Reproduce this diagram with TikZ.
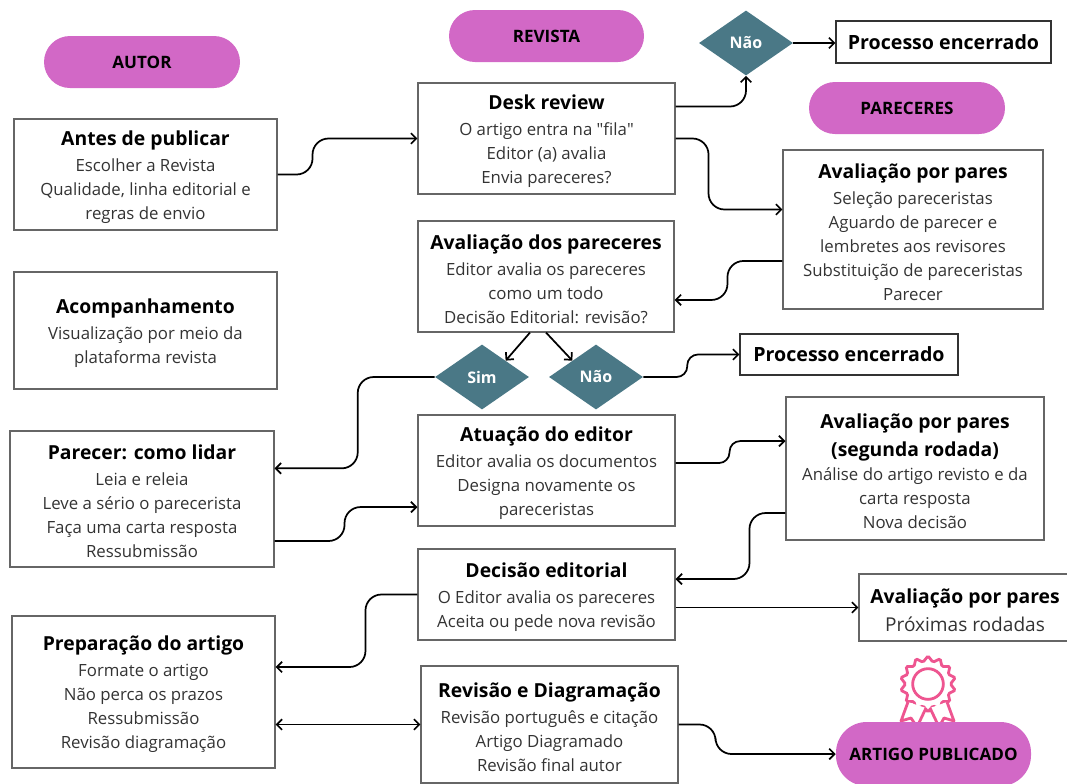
\documentclass[tikz,border=0pt]{standalone}
\usepackage{fontspec}
\setmainfont{Open Sans}
\newfontfamily\semmap{Open Sans}
\usetikzlibrary{shapes.geometric, arrows.meta}

\definecolor{rosa}{HTML}{D268C6}
\definecolor{petroleo}{HTML}{4A7886}
\definecolor{selo}{HTML}{EE5590}
\definecolor{borda}{HTML}{666666}
\definecolor{corpo}{HTML}{333333}

\newcommand{\titulo}[1]{{\fontsize{14.5}{18}\selectfont\bfseries\color{black}\rule{0pt}{14.5pt}#1}}

\tikzset{
	tam/.style 2 args={minimum width=#1*0.75pt, minimum height=#2*0.75pt},
	caixa/.style={draw=borda, line width=0.8pt, inner sep=0pt, align=center, text=corpo, font=\fontsize{12.6}{18}\selectfont},
	encerrado/.style={draw=black!80, line width=0.8pt, inner sep=0pt, font=\fontsize{14.7}{18}\selectfont\bfseries},
	pilula/.style={fill=rosa, rounded corners=19.5pt, inner sep=0pt, font=\fontsize{12.8}{14}\selectfont\bfseries},
	losango/.style={diamond, fill=petroleo, text=white, inner sep=0pt, minimum width=70.5pt, minimum height=48.75pt, font=\fontsize{12}{14}\selectfont\bfseries},
	conn/.style={-{Straight Barb[length=4pt, width=8pt]}, line width=1.3pt, rounded corners=12pt},
	connb/.style={conn, rounded corners=8pt},
}

\begin{document}
\begin{tikzpicture}[x=0.75pt, y=-0.75pt]
	\useasboundingbox (0,0) rectangle (1067,783);
	\clip (0,0) rectangle (1067,783);

	\node[pilula, tam={196}{52}] (autor) at (142,62) {AUTOR};
	\node[pilula, tam={195}{52}] (revista) at (546.5,36) {REVISTA};
	\node[pilula, tam={196}{52}] (pareceres) at (907,108) {PARECERES};

	\node[losango] (nao1) at (746,43) {Não};
	\node[losango] (sim) at (482,377) {Sim};
	\node[losango] (nao2) at (596,377) {Não};

	\node[encerrado, tam={215}{42}] (proc1) at (943.5,42) {Processo encerrado};
	\node[encerrado, tam={218}{41}] (proc2) at (849,354.5) {Processo encerrado};

	\node[caixa, tam={263}{111}] (antes) at (145.5,174.5) {\titulo{Antes de publicar}\\[1.5pt]Escolher a Revista\\Qualidade, linha editorial e\\regras de envio};
	\node[caixa, tam={263}{117}] (acomp) at (145.5,330.5) {\titulo{Acompanhamento}\\[1.5pt]Visualização por meio da\\plataforma revista};
	\node[caixa, tam={264}{136}] (parecer) at (142,499) {\titulo{Parecer: como lidar}\\[1.5pt]Leia e releia\\Leve a sério o parecerista\\Faça uma carta resposta\\Ressubmissão};
	\node[caixa, tam={263}{152}] (prep) at (143.5,692) {\titulo{Preparação do artigo}\\[1.5pt]Formate o artigo\\Não perca os prazos\\Ressubmissão\\Revisão diagramação};

	\node[caixa, tam={257}{111}] (desk) at (546.5,138.5) {\titulo{Desk review}\\[1.5pt]O artigo entra na {\semmap"}fila{\semmap"}\\Editor (a) avalia\\Envia pareceres?};
	\node[caixa, tam={256}{111}] (dos) at (546,276.5) {\titulo{Avaliação dos pareceres}\\[1.5pt]Editor avalia os pareceres\\como um todo\\Decisão Editorial: revisão?};
	\node[caixa, tam={257}{111}] (atuacao) at (546.5,470.5) {\titulo{Atuação do editor}\\[1.5pt]Editor avalia os documentos\\Designa novamente os\\pareceristas};
	\node[caixa, tam={257}{91}] (decisao) at (546.5,594.5) {\titulo{Decisão editorial}\\[1.5pt]O Editor avalia os pareceres\\Aceita ou pede nova revisão};
	\node[caixa, tam={257}{117}] (revisao) at (549.5,724.5) {\titulo{Revisão e Diagramação}\\[1.5pt]Revisão português e citação\\Artigo Diagramado\\Revisão final autor};

	\node[caixa, tam={260}{159}] (pares) at (913,229.5) {\titulo{Avaliação por pares}\\[1.5pt]Seleção pareceristas\\Aguardo de parecer e\\lembretes aos revisores\\Substituição de pareceristas\\Parecer};
	\node[caixa, tam={258}{143}] (rodada) at (915,468.5) {\titulo{Avaliação por pares}\\[3pt]\titulo{(segunda rodada)}\\Análise do artigo revisto e da\\carta resposta\\Nova decisão};
	\node[caixa, tam={212}{67}] (prox) at (965,607.5) {\titulo{Avaliação por pares}\\[3pt]{\fontsize{14.3}{18}\selectfont Próximas rodadas}};

	\node[star, star points=14, star point ratio=1.25, draw=selo, line width=2.1pt, rounded corners=1pt, fill=white, minimum size=42pt, inner sep=0pt] (roseta) at (928,684) {};
	\node[circle, draw=selo, line width=2.1pt, minimum size=23pt, inner sep=0pt] (miolo) at (928,684) {};
	\draw[selo, line width=2.1pt, line join=round, fill=white] (908,702) -- (901,721) -- (911,718) -- (917,727) -- (926,708);
	\draw[selo, line width=2.1pt, line join=round, fill=white] (947,702) -- (954,721) -- (944,718) -- (939,727) -- (930,708);
	\node[pilula, rounded corners=23pt, tam={195}{64}] (artigo) at (933.5,754) {ARTIGO PUBLICADO};

	\draw[conn] (antes.east) -- ++(35,0) |- (desk.west);
	\draw[conn] ([yshift=24pt]desk.east) -| (nao1.south);
	\draw[conn] (nao1.east) -- (nao1.east -| proc1.west);
	\draw[conn] (desk.east) -- ++(33,0) |- ([yshift=15pt]pares.west);
	\draw[conn] ([yshift=-23.6pt]pares.west) -- ++(-55,0) |- ([yshift=-17.6pt]dos.east);
	\draw[conn] ([xshift=-12pt]dos.south) -- (sim.north east);
	\draw[conn] (dos.south) -- (nao2.north west);
	\draw[conn] (sim.west) -- ++(-77,0) |- ([yshift=23pt]parecer.east);
	\draw[connb] (nao2.east) -- ++(44,0) |- (proc2.west);
	\draw[conn] ([yshift=-31.5pt]parecer.east) -- ++(70,0) |- ([yshift=-27.4pt]atuacao.west);
	\draw[connb] ([yshift=5.6pt]atuacao.east) -- ++(54,0) |- ([yshift=20.6pt]rodada.west);
	\draw[conn] ([yshift=-33.4pt]rodada.west) -- ++(-36,0) |- ([yshift=11.6pt]decisao.east);
	\draw[conn] (decisao.east |- prox.west) -- (prox.west);
	\draw[conn] (decisao.west) -- ++(-52,0) |- ([yshift=18.75pt]prep.east);
	\draw[conn, {Straight Barb[length=4pt, width=8pt]}-{Straight Barb[length=4pt, width=8pt]}] (prep.east |- revisao.west) -- (revisao.west);
	\draw[conn] (revisao.east) -- ++(37,0) |- (artigo.west);
\end{tikzpicture}
\end{document}
